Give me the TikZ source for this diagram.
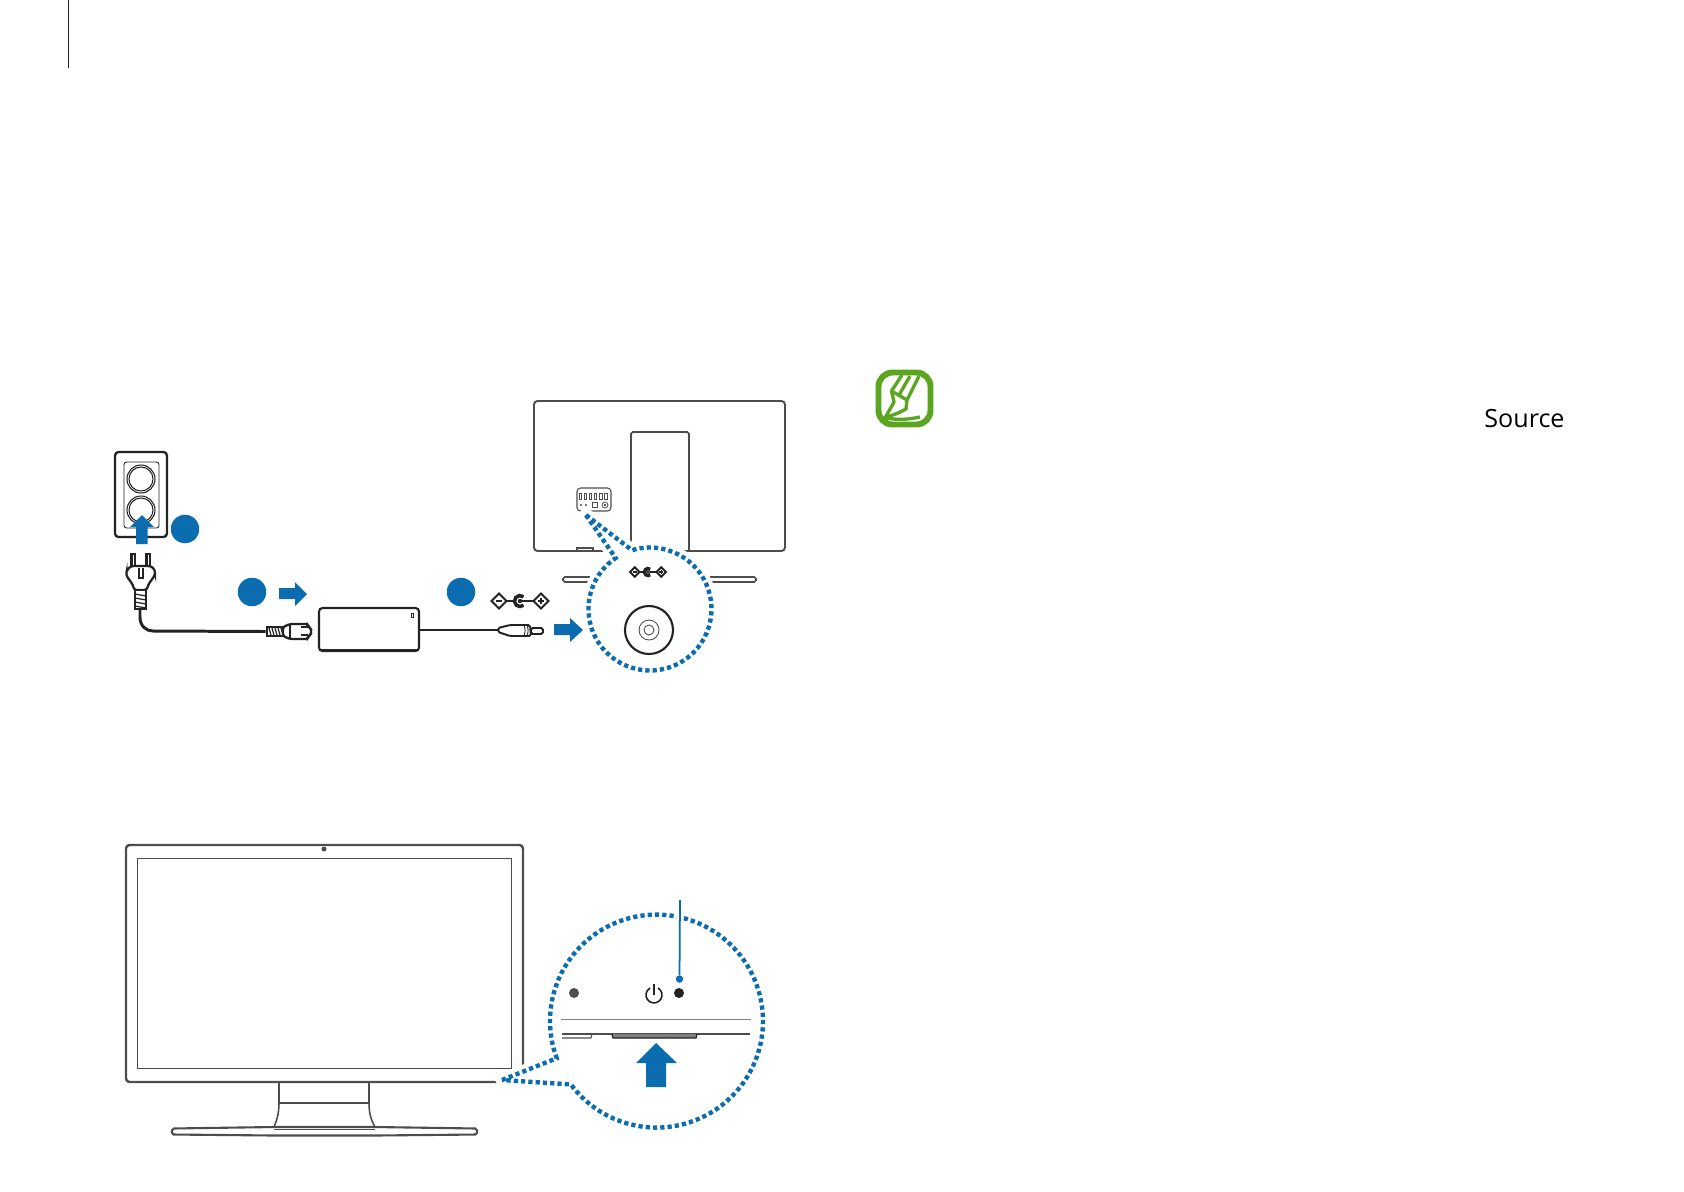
\documentclass[tikz,border=0pt]{standalone}
\usepackage{fontspec}
\usepackage{tikz}
\setmainfont{Open Sans}
\definecolor{stepblue}{RGB}{11,108,176}
\definecolor{notegreen}{RGB}{92,165,32}
\definecolor{linegray}{RGB}{77,77,77}
\definecolor{inkblack}{RGB}{35,35,35}
\tikzset{
  dcjack/.pic={
    \draw[line width=1.1pt,inkblack] (-21,-7.5) -- (-13.5,0) -- (-21,7.5) -- (-28.5,0) -- cycle
      (21,-7.5) -- (28.5,0) -- (21,7.5) -- (13.5,0) -- cycle
      (-13.5,0) -- (-6,0) (2,0) -- (13.5,0);
    \draw[line width=2pt,inkblack] (3.5,-4.2) arc[start angle=50,end angle=310,radius=0.11cm];
    \fill[inkblack] (0,0) circle (2.2);
    \draw[line width=0.8pt,inkblack] (-24,0) -- (-18,0) (18,0) -- (24,0) (21,-3) -- (21,3);
  }
}

\begin{document}
\begin{tikzpicture}[x=0.02cm,y=-0.02cm]
        \tikzstyle{badge}=[shape=circle,fill=stepblue,minimum size=0.57cm,inner sep=0pt]
        \tikzstyle{flow}=[fill=stepblue]
        \tikzstyle{cable}=[line width=1.7pt,inkblack]
        \tikzstyle{part}=[line width=1.3pt,inkblack,fill=white]
        \tikzstyle{mono}=[line width=1.1pt,linegray]
        \tikzstyle{thin part}=[line width=0.6pt,linegray]
        \tikzstyle{zoomring}=[draw=stepblue,fill=white,line width=2.5pt,dash pattern=on 2.4pt off 1.75pt,
            preaction={draw=white,solid,line join=round,line width=7.5pt}]
        \useasboundingbox (0,0) rectangle (1684,1191);

        % page rule
        \coordinate (ruletop) at (68,0);
        \coordinate (rulebottom) at (68,68);
        \draw[line width=0.5pt,inkblack] (ruletop) -- (rulebottom);

        % wall socket
        \node[draw,inkblack,line width=1.3pt,rounded corners=2pt,minimum width=1.04cm,minimum height=1.7cm,inner sep=0pt] (socket) at (141,494.5) {};
        \node[draw,inkblack,line width=0.5pt,rounded corners=1.5pt,minimum width=0.7cm,minimum height=1.32cm,inner sep=0pt] (socketplate) at (141.5,495) {};
        \foreach \y in {479,510} {
            \draw[line width=0.6pt,inkblack] (141,\y) circle (14) circle (12);
        }
        \fill[flow] (142,515) -- (154,527) -- (147.5,527) -- (147.5,544) -- (136,544) -- (136,527) -- (130,527) -- cycle;
        \node[badge] (badgeone) at (185,529) {};

        % mains plug
        \draw[part] (131.5,554) rectangle (135,568) (146.5,554) rectangle (150,568);
        \draw[part,rounded corners=1.5pt] (127,570) -- (131,566) -- (151,566) -- (155,570) -- (155,575)
            -- (148,585) -- (147,590) -- (134,590) -- (133,585) -- (126,575) -- cycle;
        \draw[line width=0.6pt,inkblack] (139,568) -- (139,578) -- (143,578) -- (143,568);
        \draw[part] (135,590) rectangle (146,609);
        \foreach \y in {594,598,602,606} {
            \draw[line width=0.7pt,inkblack] (135,\y) -- (146,\y+2);
        }
        \coordinate (plugend) at (140,609);

        % inlet
        \node[draw,inkblack,fill=white,line width=1.3pt,minimum width=0.33cm,minimum height=0.17cm,inner sep=0pt] (relief) at (275,631.5) {};
        \foreach \x in {269,272,275,278,281} {
            \draw[line width=0.7pt,inkblack] (\x,628) -- (\x+2,635);
        }
        \draw[part,rounded corners=1pt] (283,627) -- (290,624) -- (308,624) -- (308,627) -- (311,628) -- (311,635)
            -- (308,636) -- (308,639) -- (290,639) -- (283,636) -- cycle;
        \draw[line width=0.6pt,inkblack] (290,624) -- (290,639) (301,627) -- (308,627) (301,635) -- (308,635);
        \draw[cable] (plugend) -- (140,617) .. controls (140,626) and (146,631) .. (153,631) -- (relief.west);

        \node[badge] (badgetwo) at (252,592) {};
        \fill[flow] (279,588) -- (295,588) -- (295,582) -- (307,594) -- (295,606) -- (295,599) -- (279,599) -- cycle;

        % adapter
        \node[draw,inkblack,line width=1.2pt,rounded corners=2pt,minimum width=2cm,minimum height=0.86cm,inner sep=0pt] (adapter) at (369,629.5) {};
        \draw[line width=0.9pt,inkblack] (320,650) -- (418,650);
        \draw[line width=0.5pt,inkblack] (411,613) rectangle (413,617);

        % barrel plug
        \draw[part,line width=1.1pt,rounded corners=1pt] (498,628) -- (510,625) -- (530,625) -- (531,636) -- (510,636) -- (498,632) -- cycle;
        \draw[line width=0.5pt,inkblack] (524,625) to[bend left=20] (524,636) (527,625) to[bend left=20] (527,636);
        \draw[part,line width=1.1pt,rounded corners=1pt] (531,628) rectangle (543,634);
        \coordinate (barrel) at (498,630);
        \draw[cable,line width=1.5pt] (adapter.east |- barrel) -- (barrel);

        \node[badge] (badgethree) at (461,592) {};
        \path (520,601) pic {dcjack};
        \fill[flow] (554,624) -- (570,624) -- (570,618) -- (583,630) -- (570,642) -- (570,635) -- (554,635) -- cycle;

        % monitor rear
        \draw[mono,rounded corners=2pt,line width=1.1pt] (534,401) rectangle (785,551);
        \draw[mono,rounded corners=1pt,line width=0.9pt] (631,551) -- (631,432) -- (689,432) -- (689,551);
        \draw[mono,line width=0.9pt,fill=white] (577,548) rectangle (593,551);
        \draw[mono,rounded corners=1pt,line width=0.9pt] (563,577) rectangle (756,582);
        \draw[thin part,rounded corners=2pt] (577,488) rectangle (611,511);
        \foreach \x in {580.5,585.5,590.5,595.5,601,606} {
            \draw[line width=0.45pt,linegray] (\x-1.2,493) rectangle (\x+1.2,499);
        }
        \fill[linegray] (581,505) circle (1.2) (586,505) circle (1.2);
        \draw[line width=0.45pt,linegray] (592.5,502.5) rectangle (597.5,507.5) (605,505) circle (3);
        \fill[linegray] (605,505) circle (1.3);

        % rear callout
        \coordinate (reartip) at (586,515);
        \draw[zoomring] (reartip) -- (632,550.2) arc[start angle=107,end angle=-236,radius=1.23cm] -- cycle;
        \path (648,572) pic[scale=0.63] {dcjack};
        \draw[line width=1.2pt,inkblack] (649,630) circle (24);
        \draw[line width=0.5pt,linegray] (649,630) circle (10) circle (5);

        % monitor front
        \draw[mono,line width=1.4pt,rounded corners=2pt] (126,845) rectangle (523,1082);
        \draw[thin part,line width=0.5pt] (137,858) rectangle (511,1068);
        \fill[linegray] (324,849) circle (2.5);
        \draw[mono,line width=0.9pt] (279,1083) -- (279,1103) .. controls (279,1113) and (277,1120) .. (274,1127);
        \draw[mono,line width=0.9pt] (369,1083) -- (369,1103) .. controls (369,1113) and (371,1120) .. (375,1127);
        \draw[thin part] (279,1103) -- (369,1103);
        \draw[mono,line width=1.2pt,rounded corners=1pt,fill=white] (172,1128.5) -- (274,1127) -- (375,1127) -- (477,1128.5) -- (477,1134.5) -- (375,1135.5) -- (274,1135.5) -- (172,1134.5) -- cycle;
        \draw[line width=0.4pt,linegray] (274,1129.5) -- (375,1129.5);

        % front callout
        \coordinate (fronttip) at (502,1080);
        \draw[zoomring] (fronttip) -- (556.7,1058.2) arc[start angle=200.4,end angle=-143.5,radius=2.13cm] -- cycle;
        \draw[line width=0.5pt,gray] (561,1019) -- (751,1019);
        \draw[line width=0.9pt,linegray] (562,1034) -- (750,1034);
        \draw[line width=0.6pt,linegray] (562,1038) -- (591,1038) -- (592,1034);
        \draw[line width=0.7pt,inkblack,fill=gray] (612,1034) -- (613,1038) -- (696,1038) -- (697,1034);
        \fill[flow] (656,1043) -- (677,1063) -- (666,1063) -- (666,1087) -- (646,1087) -- (646,1063) -- (636,1063) -- cycle;
        \node[shape=circle,fill=linegray,minimum size=0.2cm,inner sep=0pt] (leddot) at (574,993) {};
        \node[shape=circle,fill=inkblack,minimum size=0.2cm,inner sep=0pt] (powerkey) at (679,993) {};
        \draw[line width=0.9pt,inkblack] (658,988) arc[start angle=60,end angle=-240,radius=0.16cm];
        \draw[line width=0.9pt,inkblack] (654,984) -- (654,995);
        \node[shape=circle,fill=stepblue,minimum size=0.15cm,inner sep=0pt] (keypoint) at (679.5,979) {};
        \coordinate (keyleader) at (680,900);
        \draw[stepblue,line width=1pt,preaction={draw=white,line width=4pt}] (keyleader) -- (keypoint);

        % note icon
        \draw[notegreen,line width=3.4pt,rounded corners=8pt,fill=white] (878.5,372.5) rectangle (930.5,424.5);
        \draw[notegreen,line width=1.9pt,line join=round] (902,375) -- (891.5,391) -- (894,402) -- (885,418) -- (898,413) -- (906,409) -- (907,400) -- (919,376);
        \draw[notegreen,line width=1.9pt] (891.5,391) -- (907,400) (910,376) -- (899,395);
        \draw[notegreen,line width=1.9pt] (885,418) to[bend right=10] (920,417);

        \node[inner sep=0pt,anchor=base west,font=\fontsize{14.3}{14.3}\selectfont] (sourcelabel) at (1484,427) {Source};
\end{tikzpicture}
\end{document}
